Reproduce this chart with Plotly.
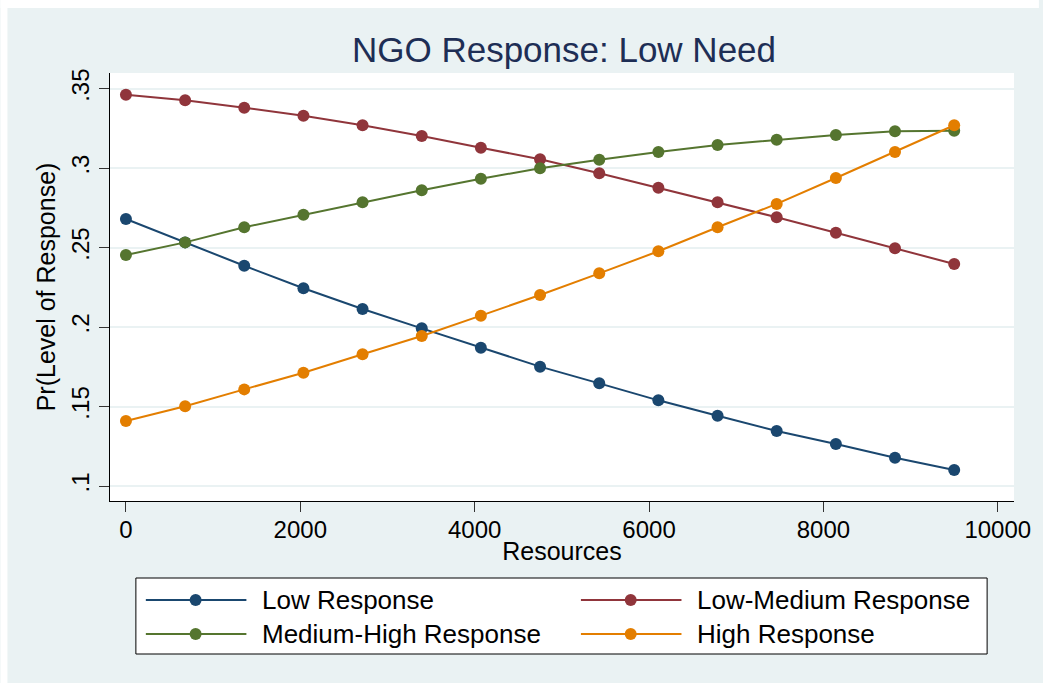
import plotly.graph_objects as go

# Predicted probabilities of NGO response level by resources (low need)
resources = [0, 679, 1357, 2036, 2714, 3393, 4071, 4750, 5429, 6107,
             6786, 7464, 8143, 8821, 9500]

low_response = [0.2680, 0.2533, 0.2386, 0.2244, 0.2114, 0.1992, 0.1870, 0.1751,
                0.1646, 0.1539, 0.1442, 0.1346, 0.1264, 0.1178, 0.1101]
low_medium_response = [0.3462, 0.3427, 0.3380, 0.3330, 0.3270, 0.3202, 0.3129, 0.3056,
                       0.2968, 0.2877, 0.2785, 0.2691, 0.2594, 0.2496, 0.2397]
medium_high_response = [0.2454, 0.2533, 0.2628, 0.2707, 0.2785, 0.2861, 0.2934, 0.2999,
                        0.3053, 0.3102, 0.3146, 0.3179, 0.3209, 0.3232, 0.3236]
high_response = [0.1409, 0.1502, 0.1608, 0.1713, 0.1829, 0.1944, 0.2072, 0.2202,
                 0.2338, 0.2477, 0.2628, 0.2775, 0.2938, 0.3102, 0.3270]

series_names = ["Low Response", "Low-Medium Response",
                "Medium-High Response", "High Response"]
series_values = [low_response, low_medium_response, medium_high_response, high_response]
series_colors = ["#1A476F", "#90353B", "#55752F", "#E37E00"]

x_ticks = [0, 2000, 4000, 6000, 8000, 10000]
x_tick_labels = ["0", "2000", "4000", "6000", "8000", "10000"]
y_ticks = [0.10, 0.15, 0.20, 0.25, 0.30, 0.35]
y_tick_labels = [".1", ".15", ".2", ".25", ".3", ".35"]

FONT = "Liberation Sans, Arial, sans-serif"
BG = "#EAF2F3"

# Plot area in pixels
WIDTH, HEIGHT = 1043, 683
L, R, T, B = 110, 1018, 73, 501
PW, PH = R - L, B - T


def fx(px):
    return (px - L) / PW


def fy(py):
    return (B - py) / PH


fig = go.Figure()
for name, vals, col in zip(series_names, series_values, series_colors):
    fig.add_trace(go.Scatter(
        x=resources, y=vals, name=name, mode="lines+markers",
        line=dict(color=col, width=2),
        marker=dict(color=col, size=12, line=dict(width=0)),
        showlegend=False,
    ))

shapes = [
    # white strips at top and left edge of the graph region
    dict(type="rect", xref="paper", yref="paper", x0=fx(0), x1=fx(WIDTH),
         y0=fy(0), y1=fy(8), fillcolor="white", line=dict(width=0), layer="below"),
    dict(type="rect", xref="paper", yref="paper", x0=fx(0), x1=fx(7),
         y0=fy(0), y1=fy(HEIGHT), fillcolor="white", line=dict(width=0), layer="below"),
    # legend box
    dict(type="rect", xref="paper", yref="paper", x0=fx(136), x1=fx(991),
         y0=fy(578), y1=fy(654), fillcolor="white",
         line=dict(color="#000000", width=1)),
]
annotations = []

# Legend entries: two columns, two rows
col_x = [146, 583]
row_y = [600, 634]
for i, (name, col) in enumerate(zip(series_names, series_colors)):
    cx = col_x[i % 2]
    ry = row_y[i // 2]
    shapes.append(dict(type="line", xref="paper", yref="paper",
                       x0=fx(cx), x1=fx(cx + 101), y0=fy(ry), y1=fy(ry),
                       line=dict(color=col, width=2)))
    r = 6
    shapes.append(dict(type="circle", xref="paper", yref="paper",
                       x0=fx(cx + 50 - r), x1=fx(cx + 50 + r),
                       y0=fy(ry + r), y1=fy(ry - r),
                       fillcolor=col, line=dict(width=0)))
    annotations.append(dict(xref="paper", yref="paper", x=fx(cx + 115), y=fy(ry),
                            text=name, showarrow=False, xanchor="left",
                            yanchor="middle",
                            font=dict(family=FONT, size=26, color="#000000")))

fig.update_layout(
    width=WIDTH, height=HEIGHT,
    margin=dict(l=L, r=WIDTH - R, t=T, b=HEIGHT - B, pad=0),
    paper_bgcolor=BG, plot_bgcolor="white",
    font=dict(family=FONT, color="#000000"),
    title=dict(text="NGO Response: Low Need", x=(L + R) / 2 / WIDTH, xref="container",
               xanchor="center", y=1 - 50 / HEIGHT, yref="container", yanchor="middle",
               font=dict(family=FONT, size=35, color="#1E2E55")),
    xaxis=dict(
        range=[-182.7, 10186], tickvals=x_ticks, ticktext=x_tick_labels,
        ticks="outside", ticklen=10, ticklabelstandoff=-3,
        tickwidth=1, tickcolor="#333333", showline=True, linecolor="#000000",
        linewidth=1, showgrid=False, zeroline=False,
        tickfont=dict(family=FONT, size=24, color="#000000"),
        title=dict(text="Resources", standoff=0,
                   font=dict(family=FONT, size=25, color="#000000")),
    ),
    yaxis=dict(
        range=[0.09056, 0.35988], tickvals=y_ticks, ticktext=y_tick_labels,
        tickangle=-90, ticks="outside", ticklen=10, tickwidth=1,
        tickcolor="#333333", showline=True, linecolor="#000000", linewidth=1,
        showgrid=True, gridcolor=BG, gridwidth=2, zeroline=False,
        tickfont=dict(family=FONT, size=24, color="#000000"),
        title=dict(text="Pr(Level of Response)", standoff=4,
                   font=dict(family=FONT, size=25, color="#000000")),
    ),
    shapes=shapes,
    annotations=annotations,
)

fig.write_html("out.html")
